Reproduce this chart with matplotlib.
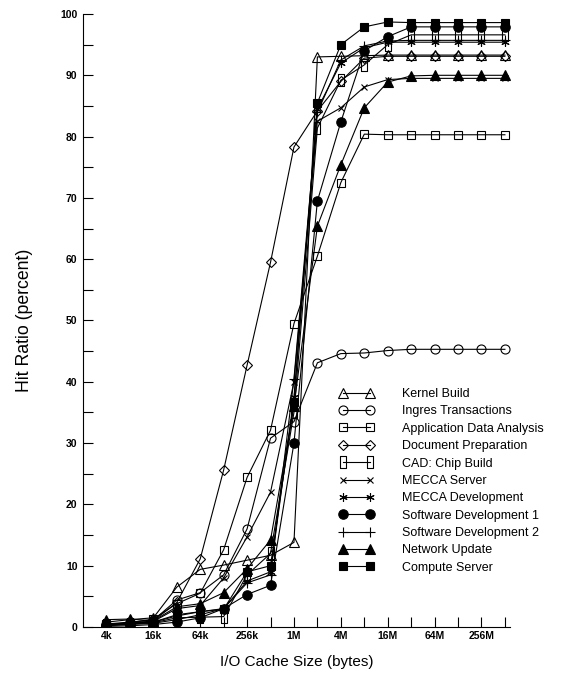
import matplotlib
matplotlib.use("Agg")
import matplotlib.pyplot as plt

plt.rcParams['font.family'] = ['Liberation Sans', 'DejaVu Sans']

# cache sizes in KB, 4k .. 512M
cache_kb = [4, 8, 16, 32, 64, 128, 256, 512, 1024, 2048, 4096, 8192,
            16384, 32768, 65536, 131072, 262144, 524288]
cache_bytes = [k * 1024 for k in cache_kb]

tick_kb = [4, 16, 64, 256, 1024, 4096, 16384, 65536, 262144]
tick_labels = ["4k", "16k", "64k", "256k", "1M", "4M", "16M", "64M", "256M"]
minor_kb = [8, 32, 128, 512, 2048, 8192, 32768, 131072, 524288]

y_ticks = [0, 10, 20, 30, 40, 50, 60, 70, 80, 90, 100]
y_minor = [5, 15, 25, 35, 45, 55, 65, 75, 85, 95]

kernel_build = [0.8, 1.2, 1.5, 6.5, 9.4, 10.1, 10.9, 11.7, 13.8, 93.0,
                93.1, 93.2, 93.3, 93.3, 93.3, 93.3, 93.3, 93.3]
ingres = [0.5, 0.8, 1.1, 4.4, 5.6, 8.5, 16.0, 30.8, 33.5, 43.1,
          44.6, 44.7, 45.1, 45.3, 45.3, 45.3, 45.3, 45.3]
app_data = [0.4, 0.7, 1.3, 3.8, 5.5, 12.6, 24.4, 32.1, 49.5, 60.5,
            72.5, 80.4, 80.3, 80.3, 80.3, 80.3, 80.3, 80.3]
doc_prep = [0.3, 0.6, 1.0, 4.0, 11.1, 25.6, 42.7, 59.5, 78.3, 84.2,
            89.0, 92.8, 93.1, 93.1, 93.1, 93.1, 93.1, 93.1]
cad_chip = [0.3, 0.5, 0.7, 1.5, 1.6, 1.7, 8.5, 12.0, 35.0, 81.4,
            89.2, 91.7, 95.0, 96.6, 96.6, 96.6, 96.6, 96.6]
mecca_server = [0.4, 0.6, 0.9, 3.0, 3.5, 8.0, 14.7, 22.0, 40.0, 82.5,
                84.7, 88.1, 89.3, 89.5, 89.5, 89.5, 89.5, 89.5]
mecca_dev = [0.3, 0.5, 0.8, 2.0, 2.5, 3.0, 7.5, 9.0, 37.5, 84.5,
             92.0, 94.5, 95.4, 95.4, 95.4, 95.4, 95.4, 95.4]
sw_dev_1 = [0.1, 0.2, 0.4, 0.8, 1.5, 3.0, 5.3, 6.8, 30.0, 69.5,
            82.4, 94.0, 96.3, 97.9, 97.9, 97.9, 97.9, 97.9]
sw_dev_2 = [0.2, 0.4, 0.6, 1.2, 2.0, 3.0, 7.2, 8.5, 40.5, 84.0,
            92.5, 94.8, 95.6, 95.7, 95.7, 95.7, 95.7, 95.7]
network = [1.2, 1.3, 1.0, 3.3, 3.8, 5.6, 9.5, 14.2, 36.0, 65.4,
           75.4, 84.7, 88.9, 89.9, 90.0, 90.0, 90.0, 90.0]
compute = [0.5, 0.6, 0.8, 1.8, 2.5, 2.9, 9.0, 10.0, 36.7, 85.5,
           95.0, 97.9, 98.7, 98.6, 98.6, 98.6, 98.6, 98.6]

# tall open rectangle for the CAD trace
tall_rect = [(-0.5, -1), (0.5, -1), (0.5, 1), (-0.5, 1), (-0.5, -1)]


def main():
    fig = plt.figure(figsize=(5.62, 6.77), dpi=100)
    ax = fig.add_axes([83 / 562, 50 / 677, 427 / 562, 613 / 677])

    series = [
        (kernel_build, "Kernel Build", "^", 7, "none"),
        (ingres, "Ingres Transactions", "o", 6.5, "none"),
        (app_data, "Application Data Analysis", "s", 6.3, "none"),
        (doc_prep, "Document Preparation", "D", 4.6, "none"),
        (cad_chip, "CAD: Chip Build", tall_rect, 9.3, "none"),
        (mecca_server, "MECCA Server", "x", 4.5, "none"),
        (mecca_dev, "MECCA Development", (6, 2, 0), 6, "none"),
        (sw_dev_1, "Software Development 1", "o", 6.8, "k"),
        (sw_dev_2, "Software Development 2", "+", 7, "none"),
        (network, "Network Update", "^", 7, "k"),
        (compute, "Compute Server", "s", 6.3, "k"),
    ]
    for vals, name, mk, ms, face in series:
        ax.plot(cache_bytes, vals, color="k", lw=0.8, marker=mk, ms=ms,
                mfc=face, mec="k", mew=0.8, label=name)

    ax.set_xscale("log", base=2)
    ax.set_xlim(2048, 2048 * 2 ** (427 / 23.44))
    ax.set_ylim(0, 100)

    ax.set_xticks([k * 1024 for k in tick_kb], tick_labels)
    ax.set_xticks([k * 1024 for k in minor_kb], minor=True)
    ax.xaxis.set_minor_formatter(matplotlib.ticker.NullFormatter())
    ax.set_yticks(y_ticks, [str(v) for v in y_ticks])
    ax.set_yticks(y_minor, minor=True)

    ax.tick_params(which="both", direction="in", length=7.5, width=0.8,
                   labelsize=7.5)
    ax.tick_params(axis="x", pad=3)
    ax.tick_params(axis="y", pad=4)
    for lbl in ax.get_xticklabels() + ax.get_yticklabels():
        lbl.set_fontweight("bold")

    for side in ("top", "right"):
        ax.spines[side].set_visible(False)
    for side in ("left", "bottom"):
        ax.spines[side].set_linewidth(0.8)

    ax.set_xlabel("I/O Cache Size (bytes)", fontsize=11)
    ax.set_ylabel("Hit Ratio (percent)", fontsize=12.7)
    ax.xaxis.set_label_coords(0.5, -28 / 613)
    ax.yaxis.set_label_coords((33 - 83) / 427, 0.5)

    ax.legend(loc="upper left", bbox_to_anchor=(339 / 562, 1 - 388 / 677),
              bbox_transform=fig.transFigure, frameon=False, numpoints=2,
              handlelength=2.8, handletextpad=2.25, labelspacing=0.43,
              fontsize=9, borderpad=0, borderaxespad=0)

    fig.savefig("out.png", dpi=100)


if __name__ == "__main__":
    main()
